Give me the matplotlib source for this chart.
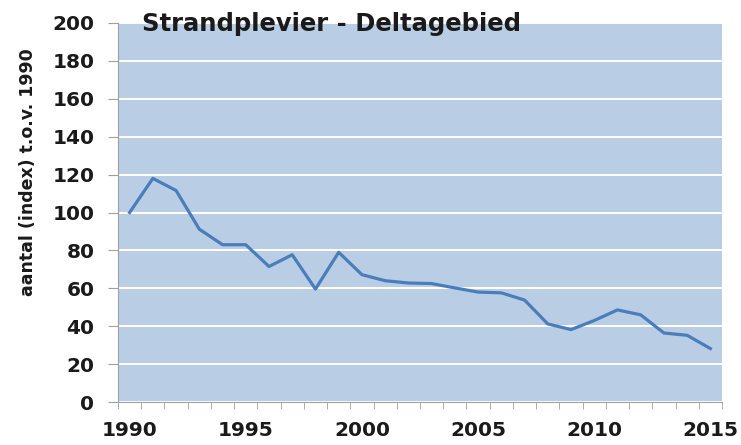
import numpy as np
import matplotlib.pyplot as plt

# data
years = list(range(1990, 2016))
index = [100, 118, 111.6, 91.2, 83, 83, 71.5, 77.7, 59.6, 79,
         67.2, 64, 62.8, 62.5, 60.2, 58, 57.6, 53.8, 41.2, 38.2,
         43, 48.6, 46, 36.4, 35.2, 28.2]
title = "Strandplevier - Deltagebied"
ylabel = "aantal (index) t.o.v. 1990"

fig = plt.figure(figsize=(7.41, 4.45), dpi=100)
ax = fig.add_axes([118/741, 1 - 402/445, (722 - 118)/741, (402 - 23)/445])

ax.set_facecolor("#B9CDE5")
ax.plot(years, index, color="#4A7EBB", linewidth=2.3, solid_joinstyle="round", zorder=3)

ax.set_xlim(1989.5, 2015.5)
ax.set_ylim(0, 200)
ax.set_yticks(np.arange(0, 201, 20))
ax.set_xticks(range(1990, 2016, 5))
ax.set_xticks(np.arange(1989.5, 2016, 1), minor=True)
ax.grid(axis="y", color="white", linewidth=1.4, zorder=1)
ax.set_axisbelow(True)

for s in ["top", "right"]:
    ax.spines[s].set_visible(False)
ax.spines["left"].set_color("#A0A0A0")
ax.spines["bottom"].set_color("#A0A0A0")

ax.tick_params(axis="y", length=7, color="#A0A0A0", labelsize=14.5, pad=10)
ax.tick_params(axis="x", which="major", length=0, labelsize=14.5, pad=14)
ax.tick_params(axis="x", which="minor", length=5, color="#A0A0A0")
for lbl in ax.get_xticklabels() + ax.get_yticklabels():
    lbl.set_fontweight("bold")
    lbl.set_color("#1a1a1a")

fig.text(28/741, 1 - 172/445, ylabel, rotation=90, ha="center", va="center",
         fontsize=12.5, fontweight="bold", color="#1a1a1a")
fig.text(142/741, 1 - 31/445, title, ha="left", va="baseline",
         fontsize=17.5, fontweight="bold", color="#1a1a1a", zorder=5)

fig.savefig("out.png", dpi=100)
